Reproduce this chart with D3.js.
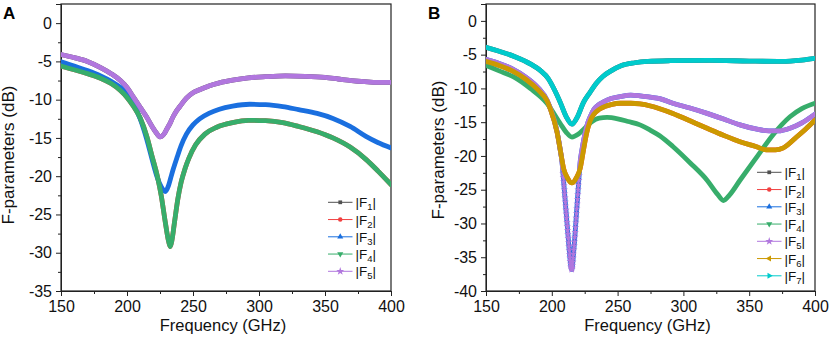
<!DOCTYPE html>
<html>
<head>
<meta charset="utf-8">
<title>F-parameters</title>
<style>
  body { margin: 0; background: #fff; }
  svg { display: block; font-family: "Liberation Sans", Arial, sans-serif; }
</style>
</head>
<body>
<svg id="chart" width="830" height="337"></svg>
<script src="https://cdn.jsdelivr.net/npm/d3@7/dist/d3.min.js"></script>
<script>
// ---- axes / labels ----
const freqTicks = [150, 200, 250, 300, 350, 400];
const freqMinor = [175, 225, 275, 325, 375];
const yTicksA = [-35, -30, -25, -20, -15, -10, -5, 0];
const yTicksB = [-40, -35, -30, -25, -20, -15, -10, -5, 0];
const namesA = ["1", "2", "3", "4", "5"];
const namesB = ["1", "2", "3", "4", "5", "6", "7"];
const colors = ["#515151", "#F14040", "#1A6FDF", "#37AD6B", "#B177DE", "#CC9900", "#00CBCC"];

// ---- panel A : [GHz, dB] ----
const aF5 = [[150,-4.1],[160,-4.5],[170,-5.0],[180,-5.8],[188,-6.6],[195,-7.5],[200,-8.4],[205,-9.7],[210,-11.0],[215,-12.3],[219,-13.5],[222,-14.3],[225,-14.85],[228,-14.5],[230,-13.9],[232.6,-13.1],[235,-12.2],[237,-11.6],[240,-10.9],[245,-9.8],[250,-9.1],[255,-8.7],[262,-8.2],[270,-7.8],[280,-7.45],[292,-7.15],[305,-7.0],[320,-6.9],[335,-6.95],[350,-7.1],[360,-7.3],[370,-7.5],[380,-7.65],[390,-7.75],[400,-7.75]];
const aF3 = [[150,-5.05],[160,-5.6],[170,-6.2],[180,-6.9],[188,-7.6],[195,-8.4],[200,-9.3],[205,-10.6],[210,-12.5],[215,-15.2],[219,-17.8],[223,-20.2],[226,-21.4],[229,-22.0],[231.5,-21.2],[233,-20.3],[235,-19.1],[238,-17.5],[241,-16.0],[245,-14.5],[250,-13.3],[255,-12.5],[262,-11.8],[270,-11.25],[280,-10.85],[293,-10.6],[305,-10.65],[318,-10.9],[330,-11.3],[344,-11.8],[356,-12.45],[369,-13.5],[381,-14.8],[390,-15.6],[400,-16.3]];
const aF4 = [[150,-5.6],[160,-6.1],[170,-6.6],[180,-7.2],[188,-7.9],[195,-8.8],[200,-9.7],[205,-10.9],[210,-12.4],[215,-14.8],[219,-17.4],[223,-20.0],[226,-22.6],[229,-26.0],[231.5,-28.5],[232.8,-29.2],[234,-28.4],[236,-26.0],[238.5,-23.0],[241,-20.8],[244,-19.0],[247,-17.6],[252,-15.9],[259,-14.5],[268,-13.6],[280,-13.0],[292,-12.7],[305,-12.75],[318,-13.0],[330,-13.5],[344,-14.2],[356,-15.0],[369,-16.2],[381,-17.8],[390,-19.3],[400,-21.1]];
const aF1 = aF5;   // hidden under |F5|
const aF2 = aF4;   // hidden under |F4|

// ---- panel B ----
const bF7 = [[150,-3.9],[160,-4.5],[172,-5.3],[184,-6.4],[191,-7.3],[197.5,-8.6],[202,-10.2],[206.5,-12.1],[211,-14.2],[215.3,-15.3],[219.5,-14.2],[224,-12.1],[229,-10.6],[234,-9.2],[239,-8.2],[245,-7.4],[253,-6.6],[263,-6.2],[273,-6.0],[290,-5.9],[320,-5.85],[350,-5.95],[375,-6.0],[390,-5.8],[400,-5.55]];
const bF4 = [[150,-6.6],[160,-7.4],[171,-8.3],[183.6,-10.0],[196.3,-12.2],[206.4,-15.2],[211,-16.5],[215.3,-17.2],[220,-16.8],[225,-15.9],[230,-15.0],[236,-14.4],[242,-14.3],[250,-14.5],[258,-14.9],[267,-15.4],[275,-16.2],[282,-17.0],[292,-18.6],[305,-21.0],[318,-23.6],[326,-25.7],[330.4,-26.6],[335,-25.8],[343,-23.6],[356,-20.1],[368,-16.9],[381,-14.2],[390,-13.0],[400,-12.2]];
const bF5 = [[150,-5.7],[160,-6.3],[170,-7.1],[180,-8.3],[190,-10.0],[196.3,-11.7],[199,-13.0],[204,-16.4],[206.5,-19.2],[208,-21.4],
  [208.25,-22.0],[208.5,-22.6],[208.75,-23.2],[209,-23.8],[209.25,-24.4],[209.5,-25.0],[209.75,-25.6],[210,-26.2],[210.25,-26.8],[210.5,-27.4],[210.75,-28.0],[211,-28.6],[211.25,-29.2],[211.5,-29.8],[211.75,-30.4],[212,-31.0],[212.25,-31.6],[212.5,-32.2],[212.75,-32.8],[213,-33.4],[213.25,-34.0],[213.5,-34.6],[213.75,-35.1],[214,-35.6],[214.25,-36.0],[214.5,-36.4],[214.75,-36.6],[215,-36.8],[215.25,-36.8],[215.5,-36.6],[215.75,-36.2],[216,-35.7],[216.25,-35.1],[216.5,-34.5],[216.75,-33.9],[217,-33.3],[217.25,-32.7],[217.5,-32.0],[217.75,-31.3],[218,-30.6],[218.25,-29.9],[218.5,-29.2],[218.75,-28.5],[219,-27.8],[219.25,-27.1],[219.5,-26.4],[219.75,-25.7],[220,-25.0],[220.25,-24.3],[220.5,-23.6],[220.75,-22.9],[221,-22.2],
  [221.5,-21.0],[222,-20.2],[223,-19.0],[225,-16.9],[227,-15.3],[229.2,-14.2],[232,-13.1],[235,-12.5],[239.3,-12.0],[245,-11.5],[252,-11.2],[260,-11.0],[267,-11.1],[275,-11.3],[282,-11.5],[292,-12.2],[305,-12.9],[318,-13.7],[330,-14.5],[343,-15.4],[355,-16.0],[365,-16.3],[372,-16.3],[381,-15.9],[390,-15.1],[400,-13.8]];
const bF6 = [[150,-6.0],[160,-6.6],[170,-7.4],[180,-8.6],[190,-10.3],[196.3,-11.8],[199,-13.1],[204,-16.5],[206.5,-19.2],[209,-21.9],[212,-23.3],[215.3,-24.0],[218.5,-23.3],[221.5,-21.9],[224,-19.2],[226.5,-16.6],[229,-14.9],[232,-13.8],[236,-13.1],[240,-12.7],[245,-12.4],[252,-12.2],[260,-12.2],[267,-12.3],[275,-12.6],[282,-13.0],[292,-13.7],[305,-14.8],[318,-15.9],[330,-16.9],[343,-17.9],[355,-18.6],[363,-19.1],[370,-19.1],[376,-18.8],[386,-17.2],[393,-16.0],[400,-14.7]];
const bF1 = bF7;
const bF2 = bF6;
const bF3 = bF5;

// symbols used by origin for each curve
const symTypes = [d3.symbolSquare, d3.symbolCircle, d3.symbolTriangle, d3.symbolTriangle, d3.symbolStar, d3.symbolTriangle, d3.symbolTriangle];
const symRot = [0, 0, 0, 180, 0, -90, 90];
const symSize = [14, 16, 16, 16, 20, 16, 16];

const svg = d3.select("#chart");

const panels = [
  { id: "A", left: 61, right: 391, top: 4, bottom: 291, yDomain: [-35, 2.5], yTicks: yTicksA,
    names: namesA, data: [aF1, aF2, aF3, aF4, aF5], labelX: 3, titleX: 14, titleY: 155,
    legX: 328, legY: 202.3 },
  { id: "B", left: 486, right: 815, top: 4, bottom: 291, yDomain: [-40, 2.5], yTicks: yTicksB,
    names: namesB, data: [bF1, bF2, bF3, bF4, bF5, bF6, bF7], labelX: 428, titleX: 444, titleY: 150,
    legX: 757, legY: 172.3, starBelow: -22.4 }
];

panels.forEach(drawPanel);

function drawPanel(p) {
  const x = d3.scaleLinear().domain([150, 400]).range([p.left, p.right]);
  const y = d3.scaleLinear().domain(p.yDomain).range([p.bottom, p.top]);
  const g = svg.append("g");

  const yMinor = d3.range(p.yDomain[0] + 2.5, p.yDomain[1] + 0.1, 5);

  // x axis
  g.append("g").attr("transform", `translate(0,${p.bottom})`)
      .call(d3.axisBottom(x).tickValues(freqTicks).tickSize(5).tickPadding(5).tickFormat(d => String(d)));
  g.append("g").attr("transform", `translate(0,${p.bottom})`)
      .call(d3.axisBottom(x).tickValues(freqMinor).tickSize(3).tickFormat(""))
      .select(".domain").remove();

  // y axis
  g.append("g").attr("transform", `translate(${p.left},0)`)
      .call(d3.axisLeft(y).tickValues(p.yTicks).tickSize(5).tickPadding(4).tickFormat(d => String(d)));
  g.append("g").attr("transform", `translate(${p.left},0)`)
      .call(d3.axisLeft(y).tickValues(yMinor).tickSize(3).tickFormat(""))
      .select(".domain").remove();

  g.selectAll(".tick text").attr("font-size", 16).attr("fill", "#111")
      .attr("font-family", "'Liberation Sans', Arial, sans-serif");
  g.selectAll(".tick line").attr("stroke", "#222");
  g.selectAll(".domain").attr("stroke", "#222");

  // frame
  g.append("rect")
      .attr("x", p.left).attr("y", p.top)
      .attr("width", p.right - p.left).attr("height", p.bottom - p.top)
      .attr("fill", "none").attr("stroke", "#222").attr("stroke-width", 1.2);

  // clip
  svg.append("clipPath").attr("id", "clip" + p.id)
    .append("rect").attr("x", p.left).attr("y", p.top)
      .attr("width", p.right - p.left).attr("height", p.bottom - p.top);

  const plot = g.append("g").attr("clip-path", `url(#clip${p.id})`);

  const line = d3.line()
      .x(d => x(d[0]))
      .y(d => y(d[1]))
      .curve(d3.curveMonotoneX);

  p.data.forEach((pts, i) => {
    const c = colors[i];
    if (p.starBelow !== undefined && i === 4) {
      // dip region: symbols separated, thin connecting line
      plot.append("path").datum(pts)
          .attr("d", line).attr("fill", "none").attr("stroke", c).attr("stroke-width", 1.2);
      plot.append("path").datum(pts)
          .attr("d", line.defined(d => d[1] >= p.starBelow))
          .attr("fill", "none").attr("stroke", c).attr("stroke-width", 4.8)
          .attr("stroke-linejoin", "round").attr("stroke-linecap", "round");
      line.defined(() => true);
      plot.selectAll(null).data(pts.filter(d => d[1] < p.starBelow)).join("path")
          .attr("transform", d => `translate(${x(d[0])},${y(d[1])})`)
          .attr("d", d3.symbol().type(symTypes[i]).size(17))
          .attr("fill", c);
    } else {
      plot.append("path").datum(pts)
          .attr("d", line).attr("fill", "none").attr("stroke", c).attr("stroke-width", 4.8)
          .attr("stroke-linejoin", "round").attr("stroke-linecap", "round");
    }
  });

  // legend
  const leg = g.append("g");
  p.names.forEach((n, i) => {
    const ly = p.legY + i * 17.25;
    const c = colors[i];
    leg.append("line").attr("x1", p.legX).attr("x2", p.legX + 24.5)
        .attr("y1", ly).attr("y2", ly).attr("stroke", c).attr("stroke-width", 1);
    leg.append("path")
        .attr("transform", `translate(${p.legX + 12.25},${ly}) rotate(${symRot[i]})`)
        .attr("d", d3.symbol().type(symTypes[i]).size(symSize[i]))
        .attr("fill", c);
    const t = leg.append("text").attr("x", p.legX + 27.5).attr("y", ly + 5)
        .attr("font-size", 13.5).attr("fill", "#111");
    t.append("tspan").text("|F");
    t.append("tspan").attr("font-size", 9.5).attr("dy", 3).text(n);
    t.append("tspan").attr("dy", -3).text("|");
  });

  // titles
  g.append("text")
      .attr("x", (p.left + p.right) / 2 - 3).attr("y", 331)
      .attr("text-anchor", "middle").attr("font-size", 16.5).attr("fill", "#111")
      .text("Frequency (GHz)");
  g.append("text")
      .attr("transform", `translate(${p.titleX},${p.titleY}) rotate(-90)`)
      .attr("text-anchor", "middle").attr("font-size", 17).attr("fill", "#111")
      .text("F-parameters (dB)");
  g.append("text")
      .attr("x", p.labelX).attr("y", 18.5)
      .attr("font-size", 17).attr("font-weight", "bold").attr("fill", "#000")
      .text(p.id);
}
</script>
</body>
</html>
